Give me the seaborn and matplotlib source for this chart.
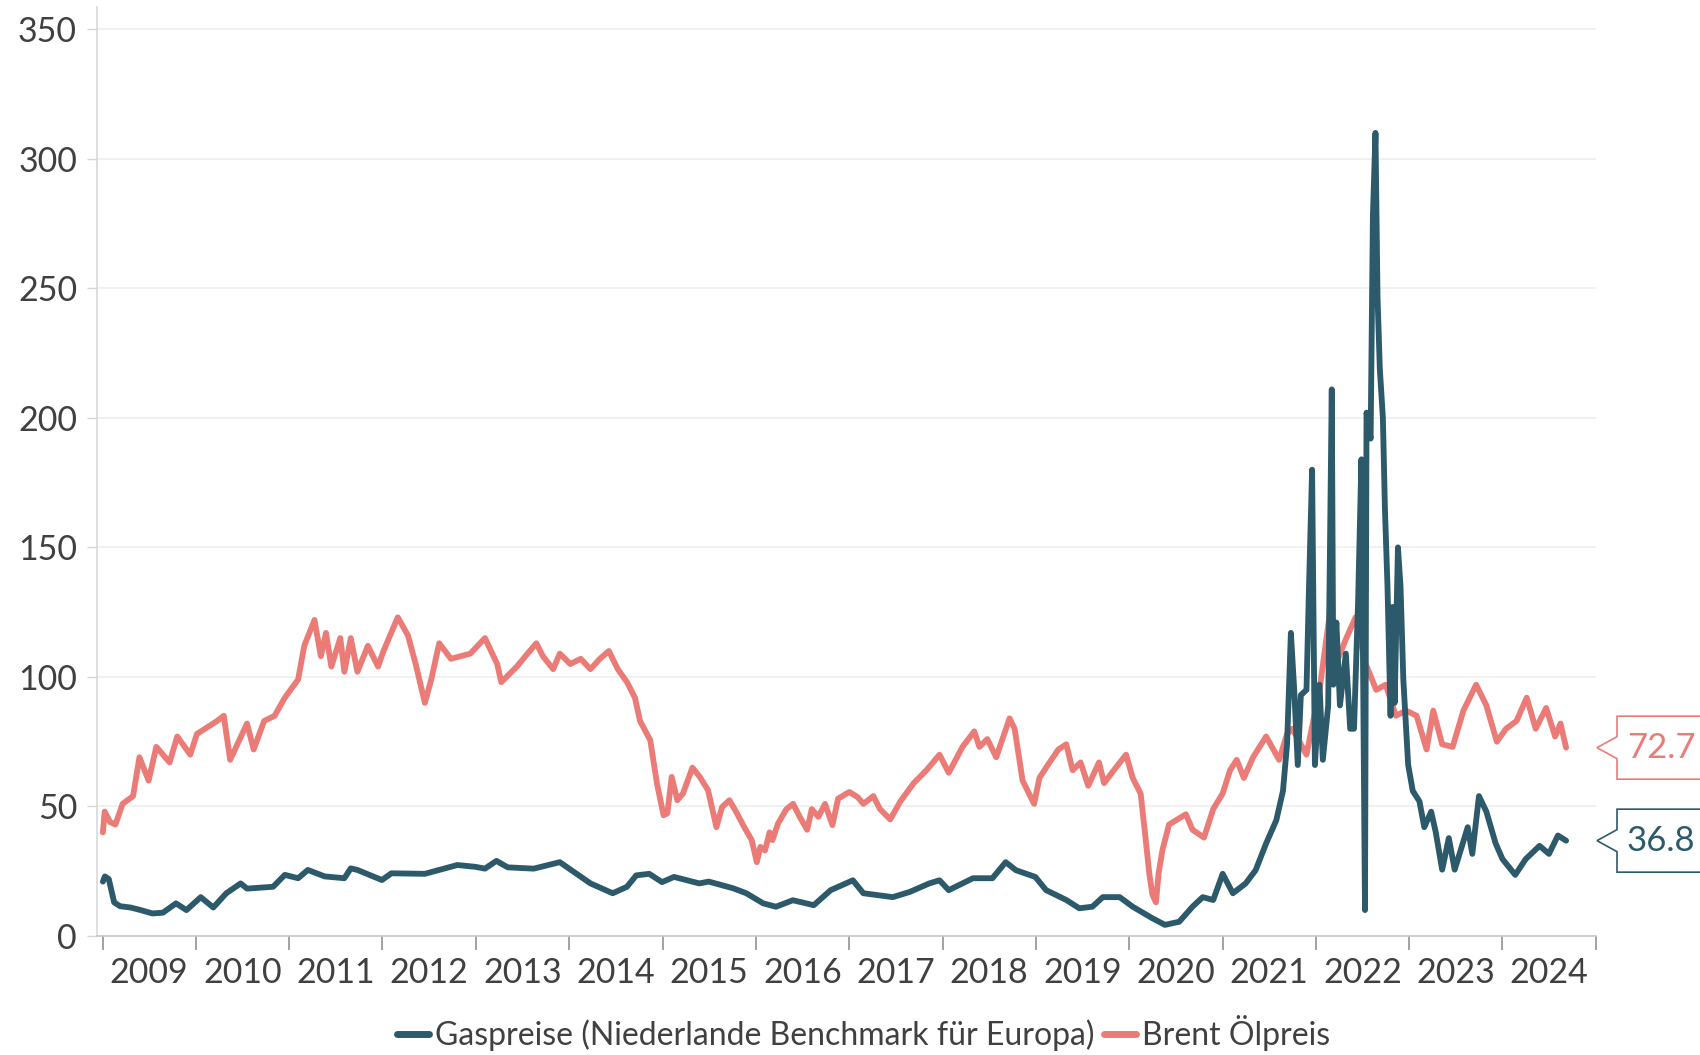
import pandas as pd
import matplotlib.pyplot as plt
import matplotlib.transforms as mtransforms
from matplotlib.patches import Polygon
from matplotlib.lines import Line2D
import seaborn as sns

GAS_COLOR = '#2c5a6a'
OIL_COLOR = '#ea7b77'
GAS_LABEL = 'Gaspreise (Niederlande Benchmark für Europa)'
OIL_LABEL = 'Brent Ölpreis'

# values
oil_dates = [
    '2009-01-02', '2009-01-09', '2009-01-30', '2009-02-20', '2009-03-20', '2009-04-30',
    '2009-05-25', '2009-06-30', '2009-07-30', '2009-09-20', '2009-10-20', '2009-12-10',
    '2010-01-05', '2010-03-25', '2010-04-20', '2010-05-15', '2010-07-20', '2010-08-15',
    '2010-09-25', '2010-11-05', '2010-12-15', '2011-02-05', '2011-03-01', '2011-04-10',
    '2011-05-05', '2011-05-25', '2011-06-15', '2011-07-20', '2011-08-05', '2011-08-30',
    '2011-09-25', '2011-11-05', '2011-12-15', '2012-01-05', '2012-03-01', '2012-04-10',
    '2012-05-10', '2012-06-15', '2012-07-10', '2012-08-10', '2012-09-25', '2012-12-10',
    '2013-02-05', '2013-03-25', '2013-04-10', '2013-06-10', '2013-07-05', '2013-08-25',
    '2013-09-20', '2013-10-30', '2013-11-25', '2014-01-05', '2014-02-15', '2014-03-25',
    '2014-05-01', '2014-06-05', '2014-07-10', '2014-08-15', '2014-09-15', '2014-10-05',
    '2014-11-14', '2014-12-10', '2015-01-05', '2015-01-20', '2015-02-06', '2015-02-28',
    '2015-03-22', '2015-04-28', '2015-05-27', '2015-06-28', '2015-07-31', '2015-08-22',
    '2015-09-20', '2015-10-19', '2015-11-17', '2015-12-16', '2016-01-05', '2016-01-19',
    '2016-02-06', '2016-02-24', '2016-03-06', '2016-03-28', '2016-04-30', '2016-05-26',
    '2016-06-21', '2016-07-20', '2016-08-07', '2016-09-02', '2016-09-28', '2016-10-27',
    '2016-11-18', '2017-01-01', '2017-02-03', '2017-02-25', '2017-04-05', '2017-05-01',
    '2017-06-10', '2017-07-20', '2017-09-10', '2017-10-30', '2017-12-20', '2018-01-25',
    '2018-03-20', '2018-05-05', '2018-05-25', '2018-06-25', '2018-07-30', '2018-09-20',
    '2018-10-10', '2018-11-10', '2018-12-25', '2019-01-15', '2019-02-10', '2019-03-30',
    '2019-04-30', '2019-05-25', '2019-06-25', '2019-07-25', '2019-09-05', '2019-09-25',
    '2019-11-10', '2019-12-20', '2020-01-15', '2020-02-15', '2020-03-05', '2020-03-20',
    '2020-04-01', '2020-04-15', '2020-04-25', '2020-05-10', '2020-06-05', '2020-08-10',
    '2020-09-05', '2020-10-20', '2020-11-25', '2021-01-01', '2021-01-30', '2021-02-25',
    '2021-03-25', '2021-04-30', '2021-06-20', '2021-08-10', '2021-09-10', '2021-10-01',
    '2021-11-25', '2022-01-15', '2022-02-25', '2022-03-20', '2022-04-30', '2022-06-05',
    '2022-07-15', '2022-08-25', '2022-10-01', '2022-11-10', '2022-12-20', '2023-01-30',
    '2023-03-10', '2023-04-05', '2023-05-10', '2023-06-20', '2023-08-01', '2023-09-20',
    '2023-10-30', '2023-12-10', '2024-01-15', '2024-02-25', '2024-04-05', '2024-05-10',
    '2024-06-20', '2024-07-25', '2024-08-15', '2024-09-06',
]
oil_values = [
    40, 48, 44, 43, 51, 54,
    69, 60, 73, 67, 77, 70,
    78, 83, 85, 68, 82, 72,
    83, 85, 92, 99, 112, 122,
    108, 117, 104, 115, 102, 115,
    102, 112, 104, 110, 123, 116,
    105, 90, 99, 113, 107, 109,
    115, 105, 98, 104, 107, 113,
    108, 103, 109, 105, 107, 103,
    107, 110, 103, 98, 92, 83,
    75.6, 59, 46.6, 47.4, 61.4, 52.4,
    55, 65, 61.4, 56.3, 42, 49.8,
    52.4, 47.4, 42, 37, 28.5, 34.4,
    33, 40, 37, 43.4, 49, 51,
    46, 41, 49, 46, 51, 42.8,
    53, 55.6, 53.6, 51, 54, 49,
    45, 52, 59, 64, 70, 63,
    73, 79, 73, 76, 69, 84,
    80, 60, 51, 61, 65, 72,
    74, 64, 67, 58, 67, 59,
    65, 70, 61, 55, 38, 24,
    16, 13, 24, 33, 43, 47,
    41, 38, 49, 55, 64, 68,
    61, 69, 77, 68, 78, 80,
    70, 95, 125, 105, 115, 123,
    105, 95, 97, 85, 87, 85,
    72, 87, 74, 73, 87, 97,
    89, 75, 80, 83, 92, 80,
    88, 77, 82, 72.7,
]

gas_dates = [
    '2009-01-02', '2009-01-10', '2009-01-25', '2009-02-15', '2009-03-10', '2009-04-20',
    '2009-05-30', '2009-07-15', '2009-08-25', '2009-10-15', '2009-11-25', '2010-01-20',
    '2010-03-10', '2010-04-30', '2010-06-25', '2010-07-20', '2010-10-30', '2010-12-15',
    '2011-02-05', '2011-03-15', '2011-05-20', '2011-08-05', '2011-08-30', '2011-09-25',
    '2011-12-30', '2012-02-05', '2012-06-15', '2012-10-20', '2012-12-30', '2013-02-05',
    '2013-03-22', '2013-05-05', '2013-08-15', '2013-11-25', '2014-01-30', '2014-03-25',
    '2014-06-20', '2014-08-15', '2014-09-20', '2014-11-10', '2014-12-30', '2015-02-15',
    '2015-05-25', '2015-07-01', '2015-10-05', '2015-11-25', '2016-01-30', '2016-03-20',
    '2016-05-25', '2016-08-15', '2016-10-20', '2017-01-15', '2017-02-25', '2017-06-20',
    '2017-08-25', '2017-11-10', '2017-12-20', '2018-01-25', '2018-04-30', '2018-07-15',
    '2018-09-05', '2018-10-15', '2018-12-30', '2019-02-10', '2019-04-30', '2019-06-20',
    '2019-08-10', '2019-09-20', '2019-11-25', '2020-01-15', '2020-03-31', '2020-05-20',
    '2020-07-15', '2020-09-05', '2020-10-15', '2020-11-25', '2021-01-01', '2021-02-10',
    '2021-04-01', '2021-05-10', '2021-06-20', '2021-07-30', '2021-08-25', '2021-09-10',
    '2021-09-25', '2021-10-08', '2021-10-22', '2021-11-03', '2021-11-25', '2021-12-05',
    '2021-12-17', '2021-12-28', '2022-01-15', '2022-01-28', '2022-02-18', '2022-03-04',
    '2022-03-10', '2022-03-22', '2022-04-05', '2022-04-28', '2022-05-15', '2022-05-30',
    '2022-06-15', '2022-06-28', '2022-07-12', '2022-07-18', '2022-08-03', '2022-08-12',
    '2022-08-22', '2022-08-30', '2022-09-08', '2022-09-20', '2022-09-28', '2022-10-08',
    '2022-10-20', '2022-10-28', '2022-11-05', '2022-11-18', '2022-11-28', '2022-12-09',
    '2022-12-28', '2023-01-15', '2023-02-10', '2023-03-01', '2023-03-28', '2023-04-15',
    '2023-05-10', '2023-06-05', '2023-06-28', '2023-07-30', '2023-08-18', '2023-09-05',
    '2023-10-01', '2023-10-30', '2023-12-05', '2024-01-01', '2024-02-20', '2024-04-01',
    '2024-05-25', '2024-07-01', '2024-08-05', '2024-09-06',
]
gas_values = [
    21, 23, 22, 13, 11.5, 11,
    10, 8.7, 9, 12.6, 10, 15,
    11, 16.5, 20.3, 18.3, 19, 23.6,
    22.3, 25.5, 23, 22.3, 26.1, 25.5,
    21.6, 24.2, 24, 27.4, 26.7, 26,
    29, 26.5, 26, 28.5, 24, 20.3,
    16.5, 19, 23.4, 24, 20.8, 22.8,
    20.3, 21, 18.4, 16.5, 12.6, 11.3,
    13.8, 11.9, 17.7, 21.5, 16.5, 15,
    17, 20.3, 21.5, 17.7, 22.3, 22.3,
    28.5, 25.4, 22.8, 17.7, 13.9, 10.7,
    11.3, 15, 15, 11.3, 6.9, 4.3,
    5.5, 11.3, 15, 13.9, 24, 16.5,
    20.3, 25.4, 35.7, 44.7, 56, 74,
    117, 95, 66, 93, 95, 135,
    180, 66, 97, 68, 89, 211,
    97, 121, 89, 109, 80, 80,
    129, 184, 10, 202, 192, 278,
    310, 247, 219, 200, 165, 135,
    85, 127, 90, 150, 135, 99,
    66, 56, 52, 42, 48, 40,
    25.6, 37.8, 25.6, 35.8, 42, 31.7,
    54, 48, 35.8, 29.7, 23.6, 29.7,
    34.8, 31.7, 38.8, 36.8,
]

year_labels = [str(y) for y in range(2009, 2025)]
y_ticks = [0, 50, 100, 150, 200, 250, 300, 350]

oil = pd.DataFrame({'Datum': pd.to_datetime(oil_dates), 'Preis': oil_values})
gas = pd.DataFrame({'Datum': pd.to_datetime(gas_dates), 'Preis': gas_values})

sns.set_style('white')
plt.rcParams['font.family'] = ['Lato', 'DejaVu Sans']

W, H = 1700, 1055
TEXT = '#404040'
fig = plt.figure(figsize=(W / 100, H / 100), dpi=100)
ax = fig.add_axes([96.5 / W, 1 - 936 / H, 1499.5 / W, (936 - 7) / H])

sns.lineplot(data=oil, x='Datum', y='Preis', color=OIL_COLOR, linewidth=4.2,
             estimator=None, ax=ax, zorder=3)
sns.lineplot(data=gas, x='Datum', y='Preis', color=GAS_COLOR, linewidth=4.2,
             estimator=None, ax=ax, zorder=4)

ax.set_xlim(pd.Timestamp('2008-12-08'), pd.Timestamp('2025-01-01'))
ax.set_ylim(0, 358.6)
ax.set_xlabel('')
ax.set_ylabel('')

# y axis
ax.set_yticks(y_ticks)
ax.set_yticklabels([str(v) for v in y_ticks])
ax.grid(axis='y', color='#efefef', linewidth=1.2, zorder=0)
ax.tick_params(axis='y', left=True, length=7, width=1, color='#d6d6d6', pad=7,
               labelsize=24.5, labelcolor=TEXT)

# x axis: ticks on year boundaries, labels in the middle of each year
ax.set_xticks(pd.to_datetime([f'{y}-01-01' for y in range(2009, 2026)]))
ax.set_xticklabels([''] * 17)
ax.set_xticks(pd.to_datetime([f'{y}-07-02' for y in range(2009, 2025)]), minor=True)
ax.set_xticklabels(year_labels, minor=True)
ax.tick_params(axis='x', which='major', bottom=True, length=10, width=1.3,
               color='#9a9a9a')
ax.tick_params(axis='x', which='minor', bottom=True, length=0, pad=15,
               labelsize=24.5, labelcolor=TEXT)

for side in ['top', 'right']:
    ax.spines[side].set_visible(False)
ax.spines['left'].set_color('#d9d9d9')
ax.spines['bottom'].set_color('#c8c8c8')
ax.spines['left'].set_linewidth(1.2)
ax.spines['bottom'].set_linewidth(1.2)

# end value labels with arrow boxes
trans = mtransforms.blended_transform_factory(fig.transFigure, ax.transData)
px = 358.6 / (936 - 7)


def end_label(value, color):
    tip = 1597 / W
    left = 1617 / W
    right = 1.01
    half = 31.5 * px
    notch = 11 * px
    pts = [(right, value + half), (left, value + half), (left, value + notch),
           (tip, value), (left, value - notch), (left, value - half),
           (right, value - half)]
    poly = Polygon(pts, closed=True, facecolor='white', edgecolor=color,
                   linewidth=1.2, transform=trans, clip_on=False, zorder=5)
    fig.add_artist(poly)
    fig.text(1627 / W, value, f'{value:.1f}', transform=trans, ha='left',
             va='center', fontsize=25, color=color, zorder=6)


end_label(oil_values[-1], OIL_COLOR)
end_label(gas_values[-1], GAS_COLOR)

handles = [Line2D([], [], color=GAS_COLOR, linewidth=5),
           Line2D([], [], color=OIL_COLOR, linewidth=5)]
fig.legend(handles, [GAS_LABEL, OIL_LABEL], loc='center',
           bbox_to_anchor=(0.508, 0.021), ncol=2, frameon=False, fontsize=23,
           handlelength=1.0, handletextpad=0.2, columnspacing=0.3,
           labelcolor=TEXT)

fig.savefig('out.png', dpi=100)
